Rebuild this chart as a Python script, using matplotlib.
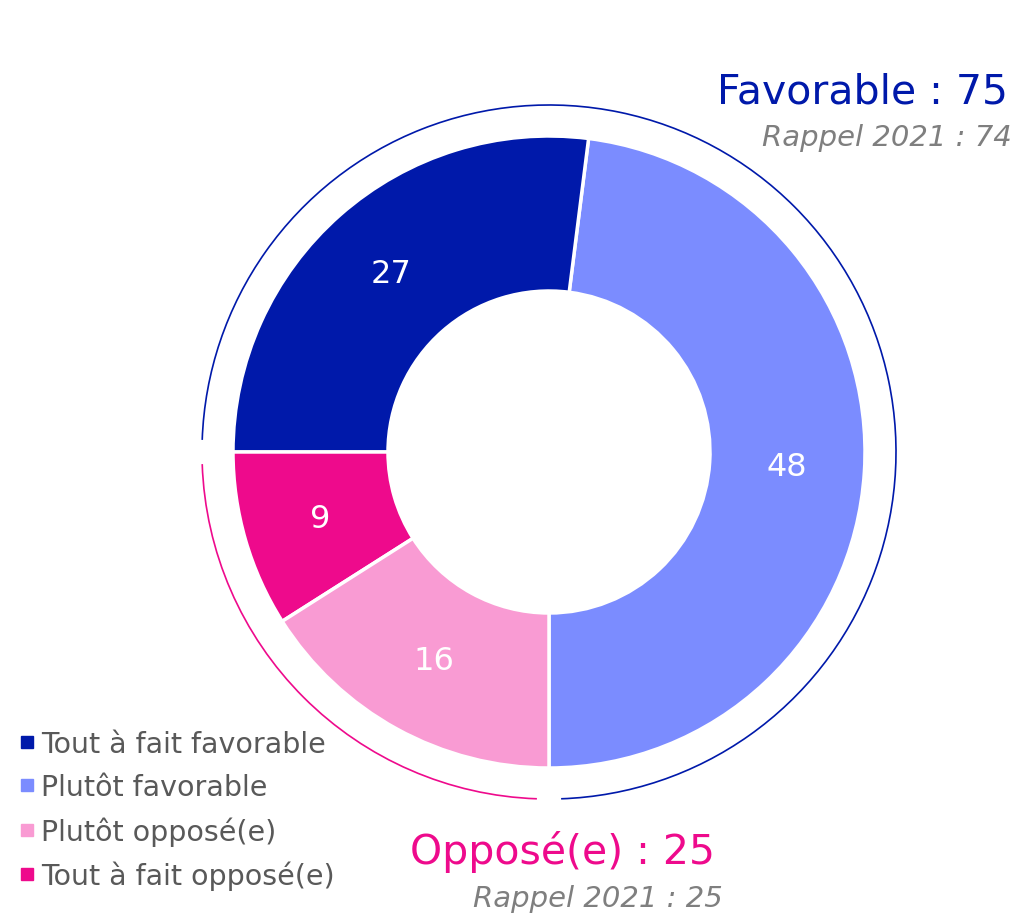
import matplotlib
matplotlib.use('Agg')
import matplotlib.pyplot as plt
from matplotlib.patches import Arc
from matplotlib.lines import Line2D
import numpy as np

plt.rcParams['font.family'] = ['DejaVu Sans']

# data (legend order)
CATEGORIES = ['Tout à fait favorable', 'Plutôt favorable', 'Plutôt opposé(e)', 'Tout à fait opposé(e)']
VALUES = [27, 48, 16, 9]
COLORS = ['#0019AA', '#7B8CFF', '#F99BD3', '#EE0A8C']

# order in which the slices run round the ring, starting at 6 o'clock
PIE_ORDER = [1, 0, 3, 2]

FAVORABLE_TOTAL = 75
OPPOSED_TOTAL = 25
RAPPEL_2021 = [74, 25]

W, H = 1017, 920
fig = plt.figure(figsize=(W / 100, H / 100), dpi=100)
ax = fig.add_axes([0, 0, 1, 1])

cx, cy = 549, H - 453
r_out, r_in = 316, 161

pie_vals = [VALUES[i] for i in PIE_ORDER]
pie_cols = [COLORS[i] for i in PIE_ORDER]
wedges, _ = ax.pie(pie_vals, colors=pie_cols, startangle=-90, counterclock=True,
                   radius=r_out, center=(cx, cy),
                   wedgeprops=dict(width=r_out - r_in, edgecolor='white', linewidth=2.5))

# pie() sets its own limits, so put the pixel frame back afterwards
ax.set_xlim(0, W)
ax.set_ylim(0, H)
ax.set_aspect('equal')
ax.axis('off')

# value labels at the middle of each slice
r_mid = (r_out + r_in) / 2
for w, v in zip(wedges, pie_vals):
    ang = np.deg2rad((w.theta1 + w.theta2) / 2)
    ax.text(cx + r_mid * np.cos(ang), cy + r_mid * np.sin(ang), str(v),
            color='white', fontsize=23, ha='center', va='center')

# thin outer arcs for the two groups
r_arc = 347
gap = 2
fav_end = -90 + FAVORABLE_TOTAL * 3.6
ax.add_patch(Arc((cx, cy), 2 * r_arc, 2 * r_arc, theta1=-90 + gap, theta2=fav_end - gap,
                 color=COLORS[0], linewidth=1.2))
ax.add_patch(Arc((cx, cy), 2 * r_arc, 2 * r_arc, theta1=fav_end + gap,
                 theta2=fav_end + OPPOSED_TOTAL * 3.6 - gap,
                 color=COLORS[3], linewidth=1.2))

# group totals
ax.text(1008, H - 92, f'Favorable : {FAVORABLE_TOTAL}', color=COLORS[0],
        fontsize=29.5, ha='right', va='center')
ax.text(1012, H - 138, f'Rappel 2021 : {RAPPEL_2021[0]}', color='#7F7F7F',
        fontsize=21, style='italic', ha='right', va='center')
ax.text(715, H - 852, f'Opposé(e) : {OPPOSED_TOTAL}', color=COLORS[3],
        fontsize=29.5, ha='right', va='center')
ax.text(723, H - 899, f'Rappel 2021 : {RAPPEL_2021[1]}', color='#7F7F7F',
        fontsize=21, style='italic', ha='right', va='center')

# legend
handles = [Line2D([], [], marker='s', linestyle='', markersize=8, color=c) for c in COLORS]
leg = ax.legend(handles, CATEGORIES, loc='lower left', bbox_to_anchor=(0.0, 0.01),
                frameon=False, fontsize=20.5, handlelength=0.5, handletextpad=0.25,
                labelspacing=0.52, borderpad=0.2)
for t in leg.get_texts():
    t.set_color('#595959')

fig.savefig('out.png', dpi=100)
